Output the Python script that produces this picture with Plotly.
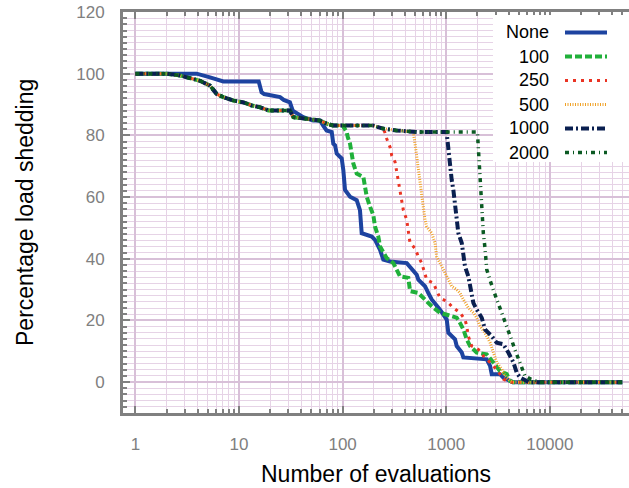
import plotly.graph_objects as go

# ---------------- data ----------------
series_names = ["None", "100", "250", "500", "1000", "2000"]
branch_at = [None, 100, 250, 481, 1000, 2000]

common_x = [1, 2.0, 2.7, 4.2, 5.25, 6.1, 7.05, 8.8, 11, 13.3, 16, 19.2, 31, 33.4, 45, 60.5, 70, 81, 196, 245, 330, 520, 2000]
common_y = [100, 100, 99.4, 97.7, 96.1, 93.4, 92.4, 91.3, 90.7, 89.7, 89.1, 88.1, 88.1, 85.9, 85.4, 84.8, 83.8, 83.2, 83.2, 82.2, 81.6, 81.1, 81.1]

none_x = [1, 3.9, 5.25, 7.05, 15.5, 16.5, 17.5, 24.9, 27, 31, 33, 34.7, 41.7, 52, 60.5, 64.7, 70, 78.5, 81.3, 84.5,
          87.7, 98, 101.6, 105.5, 117.9, 136.8, 147, 152.8, 191, 205.6, 229.7, 247, 287, 416, 465, 519, 538, 624,
          672, 724, 871, 938, 1011, 1048, 1216, 1262, 1412, 1463, 2460, 2650, 2750, 3305, 3557, 4129, 4400, 50000]
none_y = [100, 100, 98.8, 97.5, 97.5, 94, 93.4, 92.4, 91.5, 90.7, 88, 87.5, 85.9, 84.8, 84.8, 83.2, 81.6, 81.1, 77.3, 76.8,
          74.1, 72.5, 68.7, 62.3, 60.1, 59, 55.8, 48.3, 47.2, 46.1, 42.9, 39.7, 39.1, 38.6, 36.5, 34.8, 33.2, 31.1,
          28.9, 26.8, 23.5, 21.9, 20.3, 16, 13.9, 11.7, 9.6, 8, 7.4, 5.3, 2.6, 2.6, 1.5, 0.4, 0, 0]

tail100_x = [100, 105, 109.5, 112, 117.9, 126.8, 136.8, 158.5, 164.6, 170.9, 183.8, 197.8, 205.6, 221, 229.7, 247, 266.6,
             308.6, 332.6, 358, 430.7, 447.6, 538, 624, 724, 871, 1011, 1262, 1358, 1463, 1577, 1698, 1970, 2460,
             2851, 3305, 3837, 4129, 4400, 50000]
tail100_y = [83.2, 82, 81.1, 79.5, 77.3, 70.9, 67.6, 66.5, 63.3, 60.1, 56.9, 54.2, 50.4, 47.2, 44, 41.8, 40.2,
             38.6, 36.5, 34.3, 33.8, 29.5, 28.9, 26.8, 24.6, 22.5, 21.9, 20.9, 19.2, 17.1, 13.9, 11.7, 9.6, 9,
             6.4, 3.6, 2.6, 0.4, 0, 0]

tail250_x = [255, 266.6, 287, 297.8, 320.6, 332.6, 345, 358, 371.7, 385.5, 415.6, 430.7, 447.6, 500, 538, 580, 624, 648,
             750, 809, 871, 1011, 1172, 1358, 1518, 1577, 1634, 1762, 2042, 2280, 2851, 3305, 3557, 3837, 4100, 50000]
tail250_y = [81.1, 78.9, 76.2, 73.5, 71.4, 68.2, 64.4, 61.2, 59, 55.8, 52.6, 49.4, 45.1, 43.4, 40.7, 38.6, 35.4, 33.2,
             32.1, 29.5, 27.3, 26.2, 24.1, 22.5, 20.3, 18.2, 14.9, 11.7, 10.6, 8.5, 5.3, 2.6, 1, 0.4, 0, 0]

tail500_x = [481, 500, 519, 538, 558.5, 580, 601, 624, 648, 724, 780, 809, 871, 938, 1011, 1130, 1262, 1358, 1463,
             1634, 1827, 1970, 2120, 2366, 2650, 2851, 3070, 3435, 3698, 4129, 4400, 50000]
tail500_y = [81.1, 77.3, 73, 69.8, 65.5, 61.2, 56.9, 52.6, 50.4, 48.3, 45.1, 40.7, 38.6, 36.5, 34.3, 31.1, 30, 28.9, 26.8,
             24.1, 22.5, 20.9, 18.2, 16, 12.8, 9.6, 6.4, 4.2, 2, 0.4, 0, 0]

tail1000_x = [1008, 1048, 1088, 1130, 1172, 1216, 1262, 1309, 1412, 1463, 1518, 1634, 1762, 1827, 1970, 2202, 2366,
              2750, 3070, 3557, 3975, 4445, 4789, 5157, 5986, 6300, 50000]
tail1000_y = [81.1, 75.2, 69.8, 65.5, 62.3, 58, 52.6, 48.3, 45.1, 40.7, 37.5, 34.3, 28.9, 25.7, 23.5, 20.9, 17.1,
              14.9, 12.8, 12.3, 9.6, 6.4, 3.1, 1.5, 0.4, 0, 0]

tail2000_x = [2042, 2120, 2202, 2280, 2366, 2460, 2650, 2851, 3070, 3305, 3600, 3950, 4250, 4600, 4950, 5350, 5750,
              6600, 7480, 8040, 50000]
tail2000_y = [75.2, 64.4, 55.8, 48.3, 43.5, 36.5, 33, 29.5, 26.8, 24, 20.3, 17.1, 13.9, 10.6, 7.8, 4.2, 2,
              0.9, 0.4, 0, 0]

tails_x = [none_x, tail100_x, tail250_x, tail500_x, tail1000_x, tail2000_x]
tails_y = [none_y, tail100_y, tail250_y, tail500_y, tail1000_y, tail2000_y]

x_tick_vals = [1, 10, 100, 1000, 10000]
x_tick_text = ["1", "10", "100", "1000", "10000"]
y_tick_vals = [0, 20, 40, 60, 80, 100, 120]

# ---------------- styles ----------------
colors = ["#1d43a0", "#20b03a", "#ea3323", "#f0a126", "#0a1f50", "#0b5a23"]
widths = [4, 4, 3, 3, 4, 3.5]
dashes = ["solid", "7px,3px", "3px,5px", "1px,1.5px", "8px,3px,2px,3px", "4px,4px,1px,4px"]

W, H = 629, 488
L, T, B = 123, 12, 75
PW, PH = W - L, H - T - B


def px_x(p):
    return (p - L) / PW


def px_y(p):
    return (H - B - p) / PH


fig = go.Figure()
for i, name in enumerate(series_names):
    if branch_at[i] is None:
        xs, ys = list(tails_x[i]), list(tails_y[i])
    else:
        xs = [x for x in common_x if x <= branch_at[i]]
        ys = [y for x, y in zip(common_x, common_y) if x <= branch_at[i]]
        xs += tails_x[i]
        ys += tails_y[i]
    fig.add_trace(go.Scatter(x=xs, y=ys, mode="lines", name=name, showlegend=False,
                             line=dict(color=colors[i], width=widths[i], dash=dashes[i])))

gray = "#808080"
major_grid = "#d8c0d8"
minor_grid = "#e6d3e6"
minor_x = [m * 10 ** k for k in range(0, 5) for m in range(2, 10)]

fig.update_xaxes(type="log", range=[-0.1197, 4.764], tickvals=x_tick_vals, ticktext=x_tick_text,
                 showgrid=True, gridcolor=major_grid, gridwidth=2,
                 showline=True, linecolor=gray, linewidth=3, mirror="allticks",
                 ticks="inside", ticklen=7, tickwidth=2, tickcolor=gray,
                 minor=dict(tickvals=minor_x, ticks="inside", ticklen=4, tickwidth=2, tickcolor=gray,
                            showgrid=True, gridcolor=minor_grid, gridwidth=1),
                 tickfont=dict(family="Liberation Sans, Arial, sans-serif", size=17, color=gray),
                 ticklabelstandoff=14, zeroline=False)
fig.update_yaxes(range=[-10, 120], tickvals=y_tick_vals,
                 showgrid=True, gridcolor=major_grid, gridwidth=2,
                 showline=True, linecolor=gray, linewidth=3,
                 ticks="inside", ticklen=7, tickwidth=2, tickcolor=gray,
                 minor=dict(dtick=2, ticks="inside", ticklen=4, tickwidth=2, tickcolor=gray,
                            showgrid=True, gridcolor=minor_grid, gridwidth=1),
                 tickfont=dict(family="Liberation Sans, Arial, sans-serif", size=17, color=gray),
                 ticklabelstandoff=12, zeroline=False)

shapes = []
annotations = []
# legend box
shapes.append(dict(type="rect", xref="paper", yref="paper", x0=px_x(493), x1=px_x(640), y0=px_y(162), y1=px_y(15),
                   fillcolor="white", line=dict(width=0), layer="above"))
row_y = [32.5, 56.5, 80.5, 104.5, 128.5, 152.5]
for i, name in enumerate(series_names):
    shapes.append(dict(type="line", xref="paper", yref="paper", x0=px_x(565), x1=px_x(607),
                       y0=px_y(row_y[i]), y1=px_y(row_y[i]), layer="above",
                       line=dict(color=colors[i], width=widths[i], dash=dashes[i])))
    annotations.append(dict(text=name, xref="paper", yref="paper", x=px_x(551), y=px_y(row_y[i]),
                            xanchor="right", yanchor="middle", showarrow=False,
                            font=dict(family="Liberation Sans, Arial, sans-serif", size=18, color="black")))

annotations.append(dict(text="Number of evaluations", xref="paper", yref="paper", x=px_x(376), y=px_y(474),
                        xanchor="center", yanchor="middle", showarrow=False,
                        font=dict(family="Liberation Sans, Arial, sans-serif", size=23, color="black")))
annotations.append(dict(text="Percentage load shedding", xref="paper", yref="paper", x=px_x(25), y=px_y(213),
                        xanchor="center", yanchor="middle", showarrow=False, textangle=-90,
                        font=dict(family="Liberation Sans, Arial, sans-serif", size=23, color="black")))

fig.update_layout(width=W, height=H, margin=dict(l=L, r=0, t=T, b=B),
                  paper_bgcolor="white", plot_bgcolor="white",
                  shapes=shapes, annotations=annotations, showlegend=False)

fig.write_html("out.html")
